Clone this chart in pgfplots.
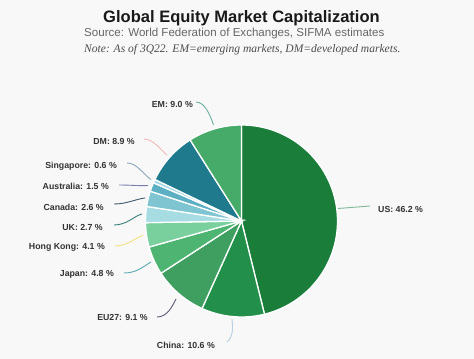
\documentclass[border=0pt]{standalone}
\usepackage{pgfplots}
\pgfplotsset{compat=1.18}
\usepackage{pgfplotstable}
\usepackage{fontspec}
\setmainfont{Liberation Sans}
\newfontfamily\notefont{Liberation Serif}

\definecolor{bgc}{HTML}{F8F8F8}
\definecolor{labc}{HTML}{333333}
\definecolor{cUS}{HTML}{1A7D3A}
\definecolor{cCN}{HTML}{22904A}
\definecolor{cEU}{HTML}{3E9F60}
\definecolor{cJP}{HTML}{4DB472}
\definecolor{cHK}{HTML}{7AD09C}
\definecolor{cUK}{HTML}{A6DCE2}
\definecolor{cCA}{HTML}{7EC4D1}
\definecolor{cAU}{HTML}{5DB0C3}
\definecolor{cSG}{HTML}{A2D8E6}
\definecolor{cDM}{HTML}{1E7A8C}
\definecolor{cEM}{HTML}{46AA69}

\definecolor{lUS}{HTML}{7FB89A}
\definecolor{lCN}{HTML}{B8CDE0}
\definecolor{lEU}{HTML}{5C5A7A}
\definecolor{lJP}{HTML}{5AA8B0}
\definecolor{lHK}{HTML}{F0E27E}
\definecolor{lUK}{HTML}{3A7F7A}
\definecolor{lCA}{HTML}{3F5A6A}
\definecolor{lAU}{HTML}{7A7FB0}
\definecolor{lSG}{HTML}{8AA8B8}
\definecolor{lDM}{HTML}{F5B8B8}
\definecolor{lEM}{HTML}{6AB0A0}

\pgfplotstableread{
label value col
US 46.2 cUS
China 10.6 cCN
EU27 9.1 cEU
Japan 4.8 cJP
HongKong 4.1 cHK
UK 2.7 cUK
Canada 2.6 cCA
Australia 1.5 cAU
Singapore 0.6 cSG
DM 8.9 cDM
EM 9.0 cEM
}\piedata

\begin{document}
\begin{tikzpicture}
\begin{axis}[width=474bp,height=359bp,scale only axis,
  xmin=0,xmax=474,ymin=0,ymax=359,hide axis,clip=false]
\fill[bgc] (axis cs:0,0) rectangle (axis cs:474,359);
\xdef\cum{90}
\pgfplotsforeachungrouped \i in {0,...,10}{%
  \pgfplotstablegetelem{\i}{value}\of\piedata \let\slv\pgfplotsretval
  \pgfplotstablegetelem{\i}{col}\of\piedata \let\slc\pgfplotsretval
  \pgfmathsetmacro{\angA}{\cum}%
  \pgfmathsetmacro{\angB}{\cum-\slv*3.596404}%
  \pgfmathsetmacro{\sx}{241.5+96*cos(\angA)}%
  \pgfmathsetmacro{\sy}{138+96*sin(\angA)}%
  \edef\temp{\noexpand\fill[\slc,draw=white,line width=1.3bp] (axis cs:241.5,138) -- (axis cs:\sx,\sy) arc[start angle=\angA,end angle=\angB,radius=96bp] -- cycle;}%
  \temp
  \xdef\cum{\angB}%
}

% leader lines
\draw[lUS,line width=0.9bp] (axis cs:338,150.5) -- (axis cs:370,153);
\draw[lCN,line width=0.9bp] (axis cs:232,40) .. controls (axis cs:233,30) and (axis cs:233,22) .. (axis cs:227,17);
\draw[lEU,line width=0.9bp] (axis cs:157,42) .. controls (axis cs:167,42) and (axis cs:172,52) .. (axis cs:176,60);
\draw[lJP,line width=0.9bp] (axis cs:124,86) .. controls (axis cs:137,86) and (axis cs:144,93) .. (axis cs:151,97);
\draw[lHK,line width=0.9bp] (axis cs:115,113) .. controls (axis cs:127,113) and (axis cs:135,121) .. (axis cs:143,123.5);
\draw[lUK,line width=0.9bp] (axis cs:114,134) .. controls (axis cs:127,134) and (axis cs:134,143) .. (axis cs:142,145);
\draw[lCA,line width=0.9bp] (axis cs:114,155) .. controls (axis cs:127,155) and (axis cs:136,160) .. (axis cs:145,161);
\draw[lAU,line width=0.9bp] (axis cs:119,174) .. controls (axis cs:130,174) and (axis cs:140,173) .. (axis cs:148,173.5);
\draw[lSG,line width=0.9bp] (axis cs:127,196) .. controls (axis cs:137,196) and (axis cs:144,184) .. (axis cs:151,179.5);
\draw[lDM,line width=0.9bp] (axis cs:144,220) .. controls (axis cs:153,220) and (axis cs:160,210) .. (axis cs:167,204);
\draw[lEM,line width=0.9bp] (axis cs:196,257) .. controls (axis cs:205,257) and (axis cs:210,244) .. (axis cs:213.5,234);

% labels
\tikzset{lab/.style={text=labc,inner sep=0pt,font=\bfseries\fontsize{8.8}{10}\selectfont}}
\node[lab,anchor=west] at (axis cs:378,150) {US: 46.2 \%};
\node[lab,anchor=east] at (axis cs:215,14) {China: 10.6 \%};
\node[lab,anchor=east] at (axis cs:148,42) {EU27: 9.1 \%};
\node[lab,anchor=east] at (axis cs:114,85) {Japan: 4.8 \%};
\node[lab,anchor=east] at (axis cs:105,112) {Hong Kong: 4.1 \%};
\node[lab,anchor=east] at (axis cs:103,132) {UK: 2.7 \%};
\node[lab,anchor=east] at (axis cs:104,152) {Canada: 2.6 \%};
\node[lab,anchor=east] at (axis cs:109,173) {Australia: 1.5 \%};
\node[lab,anchor=east] at (axis cs:117,193) {Singapore: 0.6 \%};
\node[lab,anchor=east] at (axis cs:135,218) {DM: 8.9 \%};
\node[lab,anchor=east] at (axis cs:193,255) {EM: 9.0 \%};

% titles
\node[inner sep=0pt,text=black!90,font=\bfseries\fontsize{16.6}{19}\selectfont] at (axis cs:241.5,341) {Global Equity Market Capitalization};
\node[inner sep=0pt,anchor=west,text=black!60,font=\fontsize{11.6}{13}\selectfont] at (axis cs:84,325) {Source: World Federation of Exchanges, SIFMA estimates};
\node[inner sep=0pt,anchor=west,text=black!70,font=\notefont\itshape\fontsize{11.6}{13}\selectfont] at (axis cs:84,309.5) {Note: As of 3Q22. EM=emerging markets, DM=developed markets.};
\end{axis}
\end{tikzpicture}
\end{document}
